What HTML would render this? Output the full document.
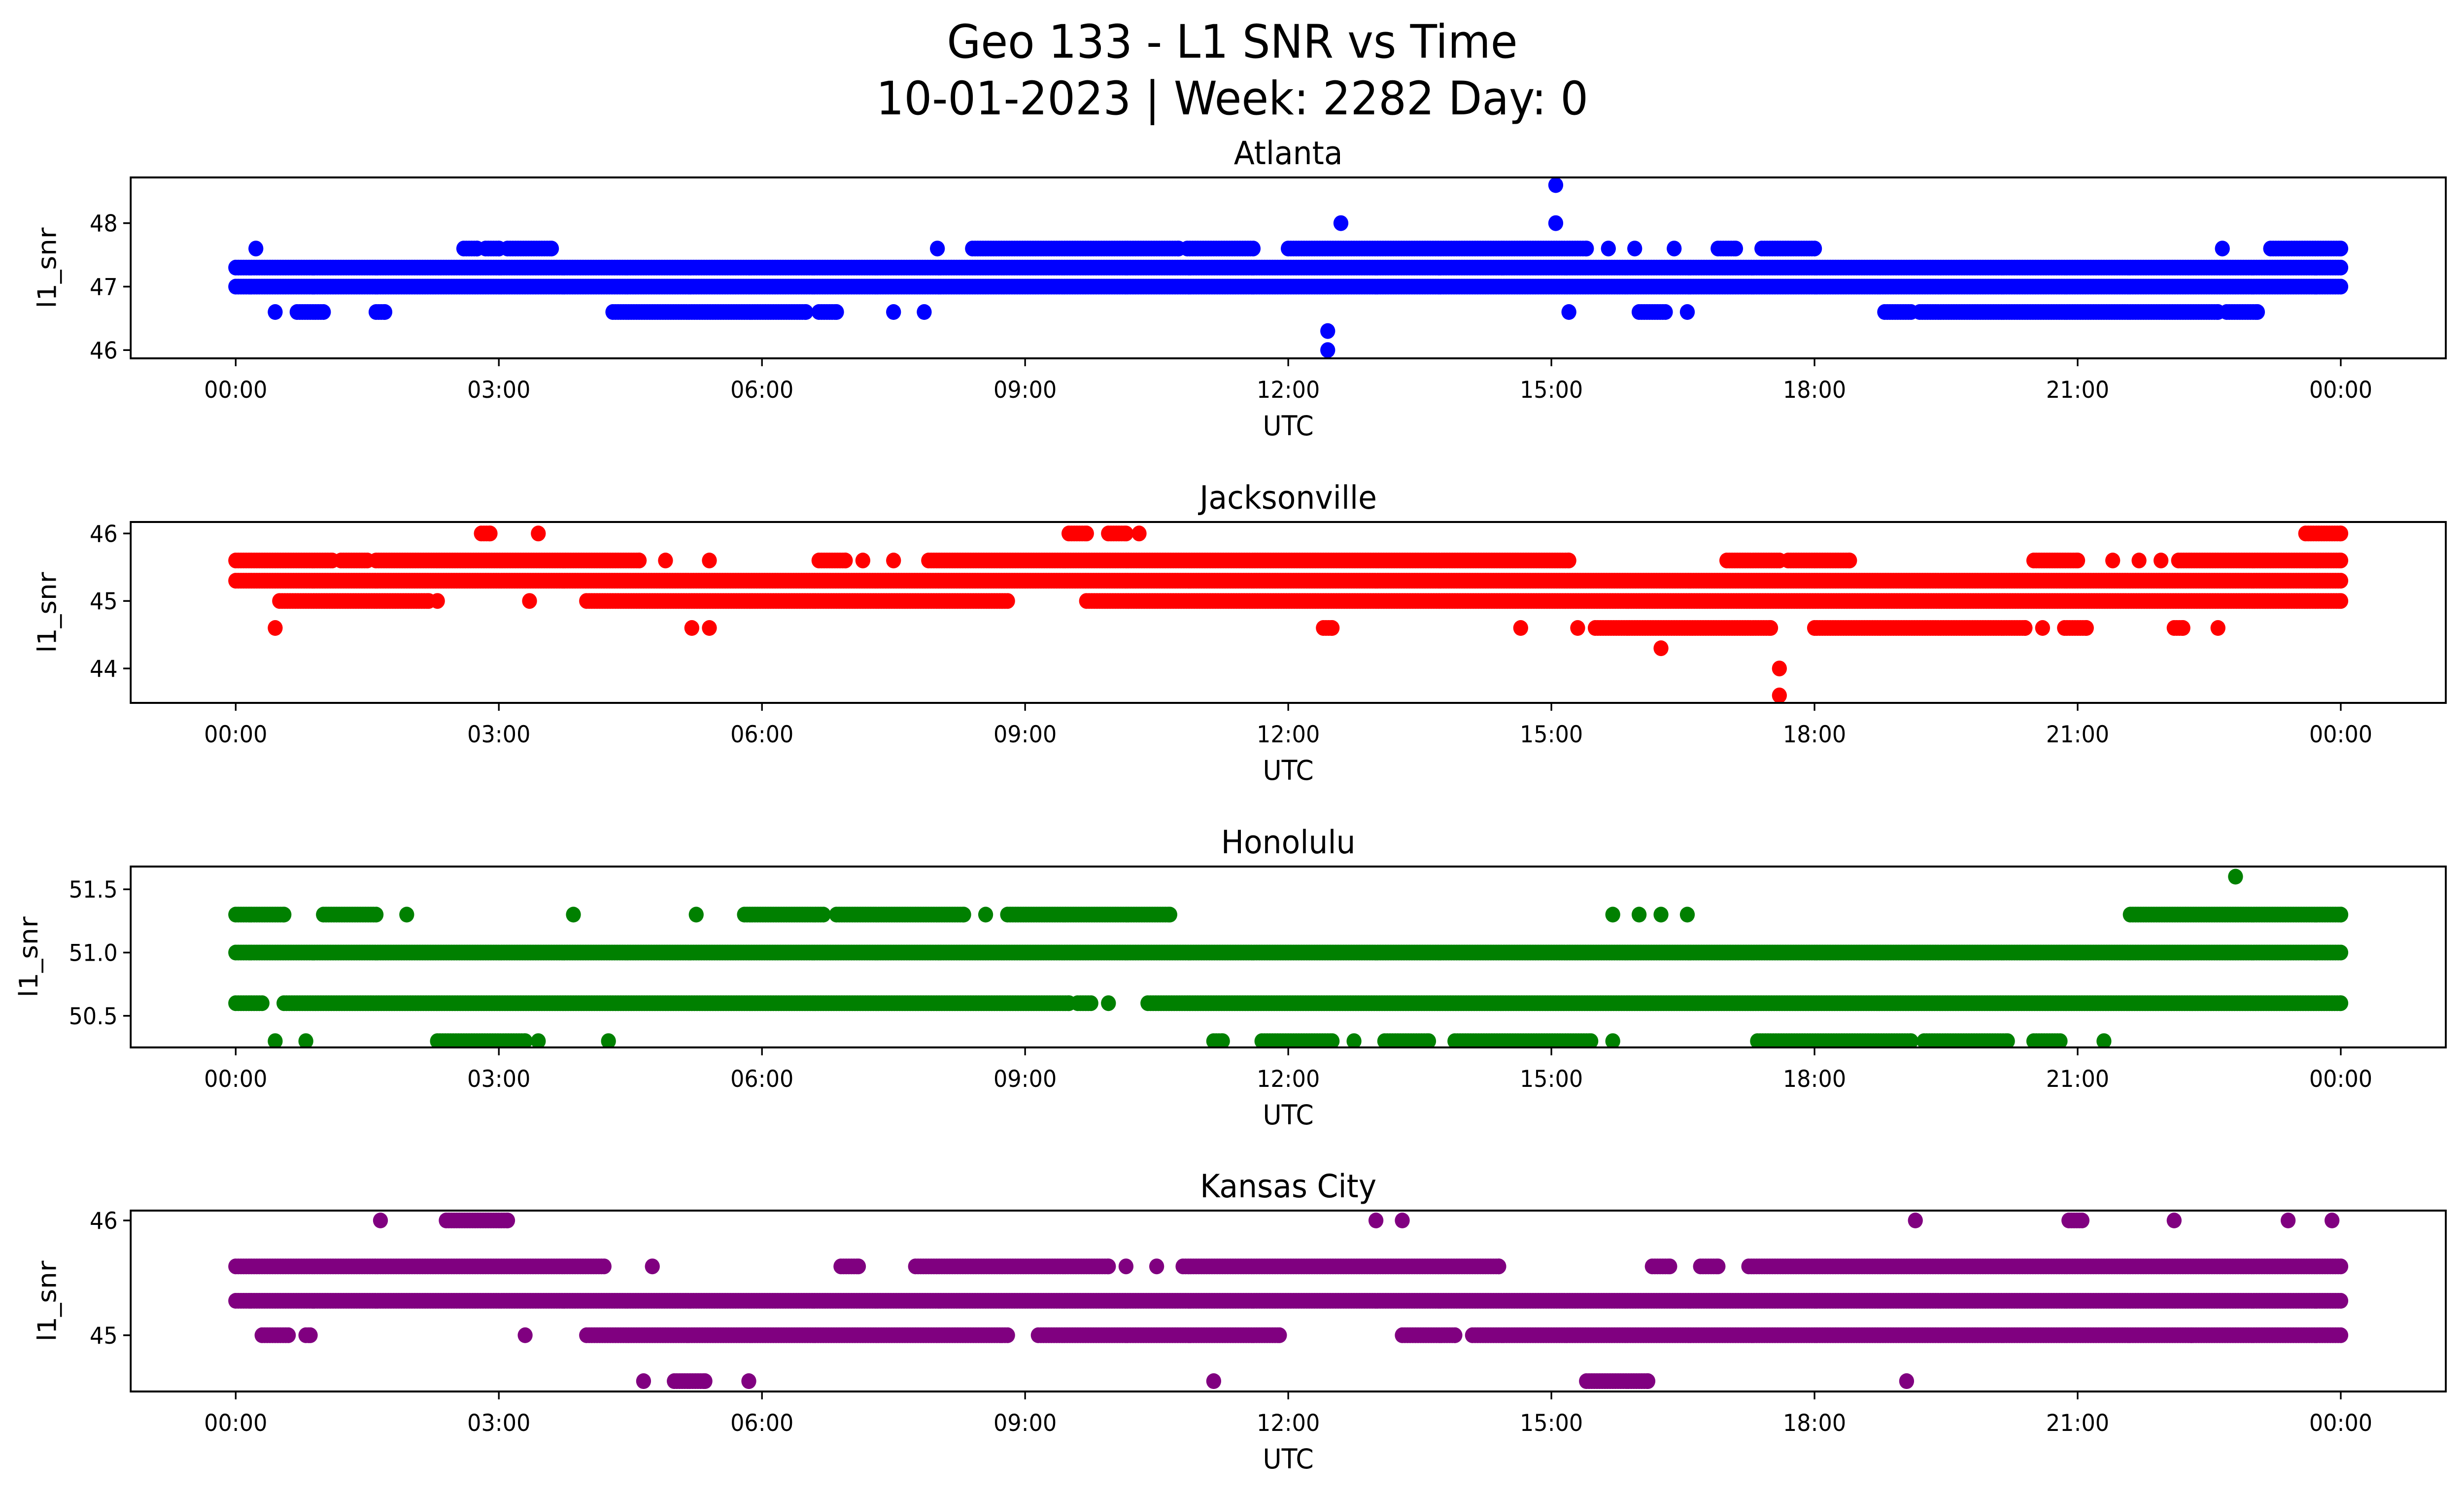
<!DOCTYPE html>
<html><head><meta charset="utf-8"><style>
html,body{margin:0;padding:0;background:#fff;overflow:hidden;width:100%;height:100%;}
svg{display:block;width:100vw;height:100vh;font-family:"DejaVu Sans","Liberation Sans",sans-serif;}
</style></head><body>
<svg id="fig" xmlns="http://www.w3.org/2000/svg" viewBox="0 0 5279 3033" preserveAspectRatio="none" overflow="hidden">
<rect width="5279" height="3033" fill="#fff"/>
<text x="2640" y="117" font-size="94" text-anchor="middle">Geo 133 - L1 SNR vs Time</text>
<text x="2640" y="232" font-size="94" text-anchor="middle">10-01-2023 | Week: 2282 Day: 0</text>
<g id="plots"></g>
</svg>
<script>
// Time ticks (hours) and labels
const xTickHours = [0,3,6,9,12,15,18,21,24];
const xTickLabels = ["00:00","03:00","06:00","09:00","12:00","15:00","18:00","21:00","00:00"];
const stations = ["Atlanta","Jacksonville","Honolulu","Kansas City"];
const colors = ["#0000ff","#ff0000","#008000","#800080"];
const yRanges = [[45.87,48.72],[43.49,46.17],[50.25,51.68],[44.51,46.086]];
const yTicksAtl = [46,47,48];
const yTicksJax = [44,45,46];
const yTicksHon = [50.5,51.0,51.5];
const yTicksKc = [45,46];
const yTickLabelsHon = ["50.5","51.0","51.5"];
// Observation runs: [snr level, [start hour, end hour], ...]
const atlantaRuns = [
 [47.3,[0,24]],
 [47.0,[0,24]],
 [47.6,[0.23,0.23],[2.6,2.75],[2.85,3.0],[3.1,3.6],[8.0,8.0],[8.4,10.75],[10.85,11.6],[12.0,15.4],[15.65,15.65],[15.95,15.95],[16.4,16.4],[16.9,17.1],[17.4,18.0],[22.65,22.65],[23.2,24]],
 [46.6,[0.45,0.45],[0.7,1.0],[1.6,1.7],[4.3,6.5],[6.65,6.85],[7.5,7.5],[7.85,7.85],[15.2,15.2],[16.0,16.3],[16.55,16.55],[18.8,19.1],[19.2,22.6],[22.7,23.05]],
 [48.0,[12.6,12.6],[15.05,15.05]],
 [48.6,[15.05,15.05]],
 [46.3,[12.45,12.45]],
 [46.0,[12.45,12.45]]
];
const jaxRuns = [
 [45.3,[0,24]],
 [45.6,[0,1.1],[1.2,1.5],[1.6,4.6],[4.9,4.9],[5.4,5.4],[6.65,6.95],[7.15,7.15],[7.5,7.5],[7.9,15.2],[17.0,17.6],[17.7,18.4],[20.5,21.0],[21.4,21.4],[21.7,21.7],[21.95,21.95],[22.15,24]],
 [45.0,[0.5,2.2],[2.3,2.3],[3.35,3.35],[4.0,8.8],[9.7,24]],
 [44.6,[0.45,0.45],[5.2,5.2],[5.4,5.4],[12.4,12.5],[14.65,14.65],[15.3,15.3],[15.5,17.5],[18.0,20.4],[20.6,20.6],[20.85,21.1],[22.1,22.2],[22.6,22.6]],
 [46.0,[2.8,2.9],[3.45,3.45],[9.5,9.7],[9.95,10.15],[10.3,10.3],[23.6,24]],
 [44.3,[16.25,16.25]],
 [44.0,[17.6,17.6]],
 [43.6,[17.6,17.6]]
];
const honRuns = [
 [51.0,[0,24]],
 [50.6,[0,0.3],[0.55,9.5],[9.6,9.75],[9.95,9.95],[10.4,24]],
 [51.3,[0,0.55],[1.0,1.6],[1.95,1.95],[3.85,3.85],[5.25,5.25],[5.8,6.7],[6.85,8.3],[8.55,8.55],[8.8,10.65],[15.7,15.7],[16.0,16.0],[16.25,16.25],[16.55,16.55],[21.6,24]],
 [51.6,[22.8,22.8]],
 [50.3,[0.45,0.45],[0.8,0.8],[2.3,3.3],[3.45,3.45],[4.25,4.25],[11.15,11.25],[11.7,12.5],[12.75,12.75],[13.1,13.6],[13.9,15.45],[15.7,15.7],[17.35,19.1],[19.25,20.2],[20.5,20.8],[21.3,21.3]]
];
const kcRuns = [
 [45.3,[0,24]],
 [45.6,[0,4.2],[4.75,4.75],[6.9,7.1],[7.75,9.95],[10.15,10.15],[10.5,10.5],[10.8,14.4],[16.15,16.35],[16.7,16.9],[17.25,24]],
 [45.0,[0.3,0.6],[0.8,0.85],[3.3,3.3],[4.0,8.8],[9.15,11.9],[13.3,13.9],[14.1,24],[22.3,22.3]],
 [44.6,[4.65,4.65],[5.0,5.35],[5.85,5.85],[11.15,11.15],[15.4,16.1],[19.05,19.05]],
 [46.0,[1.65,1.65],[2.4,3.1],[13.0,13.0],[13.3,13.3],[19.15,19.15],[20.9,21.05],[22.1,22.1],[23.4,23.4],[23.9,23.9]]
];
const allRuns = [atlantaRuns, jaxRuns, honRuns, kcRuns];
const allYTicks = [yTicksAtl, yTicksJax, yTicksHon, yTicksKc];
const allYLabels = [yTicksAtl.map(String), yTicksJax.map(String), yTickLabelsHon, yTicksKc.map(String)];
const sampleStep = 0.03;

const NS = "http://www.w3.org/2000/svg";
const root = document.getElementById("plots");
const L = 280, R = 5240, TOPS = [360,1059,1758,2456], H = 367;
function xScale(h){ return 505 + h * (4510/24); }
function mk(tag, attrs, parent){ const e = document.createElementNS(NS, tag); for (const k in attrs) e.setAttribute(k, attrs[k]); parent.appendChild(e); return e; }

stations.forEach((name, i) => {
  const top = TOPS[i], bot = top + H;
  const [y0, y1] = yRanges[i];
  const yScale = v => bot - (v - y0) / (y1 - y0) * H;
  const g = mk("g", {}, root);
  
  
  const t = mk("text", {x:(L+R)/2, y: top-27, "font-size":65, "text-anchor":"middle"}, g);
  t.textContent = name;
  
  
  const clip = mk("clipPath", {id:"c"+i}, g);
  mk("rect", {x:L, y:top, width:R-L, height:H}, clip);
  const pts = mk("g", {fill: colors[i], "clip-path":"url(#c"+i+")"}, g);
  
  
  allRuns[i].forEach(run => {
    const lvl = run[0], cy = yScale(lvl);
    for (let k = 1; k < run.length; k++) {
      const [a, b] = run[k];
      for (let h = a; h <= b + 1e-9; h += sampleStep) {
        mk("circle", {cx: xScale(h).toFixed(1), cy: cy.toFixed(1), r: 16}, pts);
      }
      if ((b - a) % sampleStep > 1e-6) mk("circle", {cx: xScale(b).toFixed(1), cy: cy.toFixed(1), r: 16}, pts);
    }
  });
  const frame = mk("rect", {x:L, y:top, width:R-L, height:H, fill:"none", stroke:"#000", "stroke-width":4}, g);
  
  
  xTickHours.forEach((h, j) => {
    const x = xScale(h);
    mk("line", {x1:x, x2:x, y1:bot, y2:bot+16, stroke:"#000", "stroke-width":3.5}, g);
    const tl = mk("text", {x:x, y:bot+80, "font-size":47, "text-anchor":"middle"}, g);
    tl.textContent = xTickLabels[j];
    
    
  });
  allYTicks[i].forEach((v, j) => {
    const y = yScale(v);
    mk("line", {x1:L-16, x2:L, y1:y, y2:y, stroke:"#000", "stroke-width":3.5}, g);
    const yl = mk("text", {x:L-28, y:y+17, "font-size":47, "text-anchor":"end"}, g);
    yl.textContent = allYLabels[i][j];
    
    
  });
  const xt = mk("text", {x:(L+R)/2, y: bot+156, "font-size":55, "text-anchor":"middle"}, g);
  xt.textContent = "UTC";
  
  
  const ylx = i === 2 ? 80 : 120;
  const yt = mk("text", {x:ylx, y:(top+bot)/2, "font-size":55, "text-anchor":"middle", transform:`rotate(-90 ${ylx} ${(top+bot)/2})`}, g);
  yt.textContent = "l1_snr";
  
  
});
</script>
</body></html>
